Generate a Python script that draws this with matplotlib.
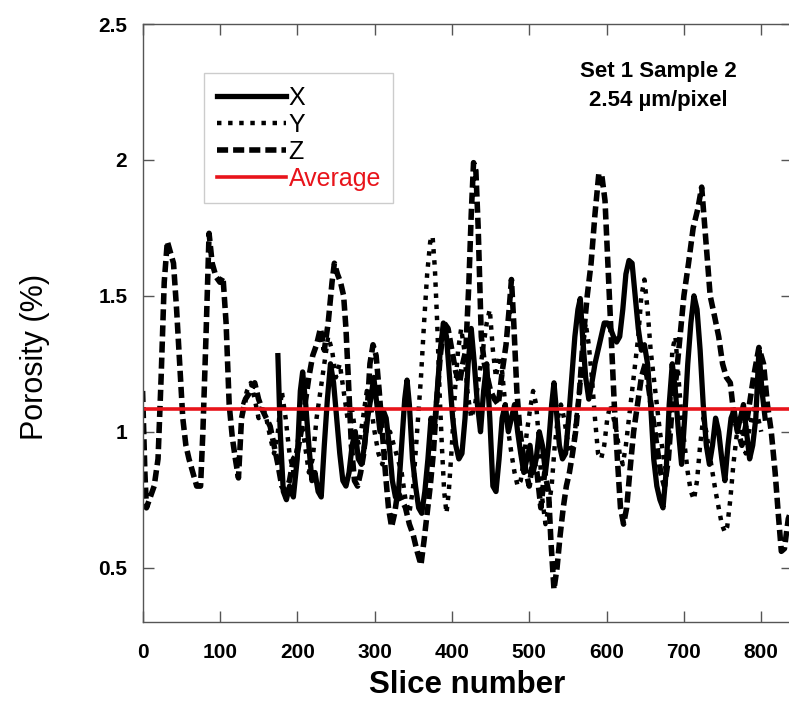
import matplotlib
matplotlib.use("Agg")
import matplotlib.pyplot as plt

# ---- porosity per slice ----
z_slice = [0, 3, 5, 10, 15, 20, 24, 28, 32, 36, 40, 44, 48, 52, 56, 60, 65, 70, 75, 78,
           82, 86, 90, 95, 100, 104, 108, 112, 116, 120, 124, 128, 133, 140, 145, 150, 155, 160, 165, 170,
           175, 180, 185, 190, 195, 200, 205, 210, 215, 220, 225, 230, 235, 240, 245, 248, 252, 256, 260, 263,
           266, 270, 274, 278, 282, 286, 290, 294, 298, 302, 306, 310, 314, 318, 322, 326, 330, 335, 340, 345,
           350, 355, 360, 364, 368, 372, 376, 380, 385, 390, 395, 400, 405, 410, 414, 418, 422, 425, 428, 431,
           434, 438, 442, 446, 450, 455, 460, 465, 470, 474, 477, 480, 484, 488, 492, 496, 500, 505, 510, 515,
           520, 525, 528, 532, 536, 540, 544, 548, 552, 556, 560, 565, 570, 575, 580, 585, 590, 594, 598, 602,
           606, 610, 614, 618, 622, 626, 630, 635, 640, 645, 650, 655, 660, 665, 670, 675, 680, 685, 690, 695,
           700, 706, 712, 718, 723, 728, 734, 740, 745, 750, 755, 760, 765, 770, 775, 782, 790, 797, 803, 808,
           813, 818, 822, 826, 830, 835, 840]
z_val = [1.15, 0.85, 0.72, 0.76, 0.80, 0.90, 1.20, 1.55, 1.70, 1.66, 1.62, 1.45, 1.25, 1.05, 0.95, 0.90, 0.85, 0.80, 0.80, 1.00,
         1.35, 1.73, 1.62, 1.57, 1.55, 1.57, 1.40, 1.10, 0.98, 0.90, 0.83, 1.05, 1.12, 1.15, 1.18, 1.12, 1.08, 1.05, 1.02, 0.95,
         0.88, 0.80, 0.78, 0.82, 0.90, 0.92, 1.00, 1.10, 1.20, 1.28, 1.32, 1.38, 1.30, 1.40, 1.55, 1.62, 1.58, 1.55, 1.50, 1.38,
         1.20, 0.95, 0.82, 0.80, 0.85, 0.92, 1.05, 1.25, 1.32, 1.28, 1.15, 1.00, 0.85, 0.72, 0.65, 0.70, 0.78, 0.75, 0.72, 0.66,
         0.62, 0.56, 0.51, 0.60, 0.70, 0.80, 0.92, 1.10, 1.28, 1.40, 1.38, 1.30, 1.22, 1.18, 1.25, 1.30, 1.55, 1.80, 1.99, 1.96,
         1.75, 1.35, 1.25, 1.20, 1.15, 1.12, 1.10, 1.22, 1.32, 1.45, 1.56, 1.40, 1.15, 1.00, 0.92, 0.85, 0.80, 0.90, 0.85, 0.72,
         0.85, 0.78, 0.60, 0.42, 0.50, 0.62, 0.72, 0.80, 0.85, 0.92, 1.00, 1.15, 1.35, 1.50, 1.62, 1.80, 1.95, 1.94, 1.85, 1.60,
         1.35, 1.10, 0.90, 0.72, 0.66, 0.72, 0.85, 1.00, 1.10, 1.20, 1.25, 1.15, 1.05, 0.95, 0.85, 0.80, 0.90, 1.10, 1.20, 1.35,
         1.50, 1.62, 1.75, 1.82, 1.90, 1.72, 1.50, 1.42, 1.35, 1.25, 1.20, 1.18, 1.05, 1.00, 0.95, 1.05, 1.20, 1.31, 1.25, 1.10,
         1.00, 0.85, 0.70, 0.56, 0.57, 0.68, 0.72]

x_slice = [175, 178, 182, 186, 190, 195, 200, 204, 207, 211, 215, 219, 223, 227, 231, 235, 239, 243, 247, 251,
           255, 259, 263, 267, 271, 275, 279, 283, 287, 291, 295, 299, 303, 307, 311, 315, 319, 323, 327, 331,
           335, 339, 342, 345, 349, 353, 357, 361, 365, 369, 373, 377, 381, 385, 389, 393, 397, 401, 405, 409,
           413, 417, 421, 425, 429, 433, 437, 441, 445, 449, 453, 457, 461, 465, 469, 473, 477, 481, 485, 489,
           493, 497, 501, 505, 509, 513, 517, 521, 525, 529, 532, 535, 539, 543, 547, 551, 555, 559, 563, 566,
           569, 573, 577, 581, 585, 589, 593, 597, 601, 605, 609, 613, 617, 621, 625, 629, 633, 637, 641, 645,
           649, 653, 657, 661, 665, 669, 673, 677, 681, 685, 689, 693, 697, 701, 705, 709, 713, 717, 721, 725,
           729, 733, 737, 741, 745, 749, 753, 757, 761, 765, 769, 773, 777, 781, 785, 789, 793, 797, 801, 805]
x_val = [1.28, 1.00, 0.78, 0.75, 0.80, 0.76, 0.90, 1.15, 1.22, 1.10, 0.95, 0.82, 0.85, 0.78, 0.76, 0.95, 1.12, 1.25, 1.18, 1.05,
         0.92, 0.82, 0.80, 0.85, 0.95, 1.00, 0.90, 0.88, 0.95, 1.05, 1.12, 1.20, 1.10, 1.00, 1.08, 1.05, 0.95, 0.82, 0.76, 0.78,
         0.95, 1.12, 1.19, 1.10, 0.90, 0.80, 0.72, 0.70, 0.78, 0.90, 1.05, 1.00, 1.15, 1.30, 1.40, 1.35, 1.20, 1.05, 0.95, 0.90,
         0.92, 1.05, 1.25, 1.38, 1.25, 1.10, 1.00, 1.15, 1.25, 1.05, 0.80, 0.78, 0.90, 1.05, 1.10, 1.00, 1.05, 1.10, 1.00, 0.92,
         0.85, 0.90, 0.95, 0.85, 0.90, 1.00, 0.95, 0.85, 0.95, 1.10, 1.18, 1.08, 0.95, 0.90, 0.92, 1.05, 1.20, 1.35, 1.45, 1.49,
         1.35, 1.20, 1.12, 1.18, 1.25, 1.30, 1.35, 1.40, 1.40, 1.38, 1.35, 1.33, 1.35, 1.45, 1.58, 1.63, 1.62, 1.50, 1.38, 1.30,
         1.32, 1.25, 1.10, 0.90, 0.80, 0.75, 0.72, 0.85, 1.10, 1.25, 1.15, 1.00, 0.88, 1.05, 1.25, 1.40, 1.50, 1.45, 1.30, 1.10,
         0.95, 0.88, 0.95, 1.05, 1.00, 0.90, 0.82, 0.95, 1.05, 1.08, 1.00, 1.05, 1.10, 1.00, 0.90, 0.95, 1.05, 1.30, 1.15, 1.05]

y_slice = [130, 135, 140, 145, 150, 155, 160, 165, 170, 175, 180, 185, 190, 195, 200, 205, 210, 215, 220, 225,
           230, 235, 240, 245, 250, 255, 260, 265, 270, 275, 280, 285, 290, 295, 300, 305, 310, 315, 320, 325,
           330, 335, 340, 345, 350, 355, 360, 364, 368, 372, 375, 378, 381, 384, 387, 390, 393, 396, 400, 404,
           408, 412, 416, 420, 425, 430, 435, 440, 445, 449, 453, 457, 461, 465, 469, 473, 477, 481, 485, 489,
           493, 497, 501, 505, 509, 513, 517, 521, 525, 529, 533, 537, 541, 545, 549, 553, 557, 561, 565, 569,
           573, 577, 581, 585, 589, 593, 597, 601, 605, 609, 613, 617, 621, 625, 629, 633, 637, 641, 645, 649,
           653, 657, 661, 665, 669, 673, 677, 681, 685, 689, 693, 697, 701, 705, 709, 713, 717, 721, 725, 729,
           733, 737, 741, 745, 749, 753, 756, 760, 764, 768, 772, 776, 780, 784, 788, 792, 796, 800]
y_val = [1.10, 1.15, 1.18, 1.12, 1.05, 1.10, 1.05, 0.98, 0.92, 1.00, 1.15, 1.05, 0.92, 0.85, 0.95, 1.05, 0.95, 0.85, 0.90, 1.05,
         1.15, 1.25, 1.35, 1.30, 1.20, 1.25, 1.15, 1.05, 1.10, 1.00, 0.95, 1.05, 1.15, 1.10, 1.00, 0.92, 0.88, 0.95, 1.00, 0.95,
         0.90, 0.85, 0.75, 0.70, 0.80, 1.00, 1.20, 1.40, 1.58, 1.70, 1.72, 1.60, 1.40, 1.15, 0.95, 0.78, 0.70, 0.78, 0.95, 1.15,
         1.30, 1.38, 1.30, 1.15, 1.05, 1.10, 1.20, 1.30, 1.40, 1.45, 1.30, 1.20, 1.28, 1.22, 1.10, 1.00, 0.92, 0.85, 0.80, 0.82,
         0.90, 1.00, 1.08, 1.15, 1.10, 0.95, 0.75, 0.66, 0.72, 0.80, 0.95, 1.05, 1.10, 1.05, 0.98, 0.92, 0.95, 1.05, 1.15, 1.30,
         1.40, 1.32, 1.20, 1.05, 0.92, 0.90, 0.95, 1.05, 1.10, 1.05, 1.00, 0.92, 0.88, 0.95, 1.05, 1.15, 1.25, 1.35, 1.50, 1.56,
         1.45, 1.30, 1.20, 1.10, 1.00, 0.92, 0.85, 1.00, 1.30, 1.35, 1.20, 1.05, 0.95, 0.85, 0.78, 0.75, 0.82, 0.95, 1.05, 1.00,
         0.92, 0.85, 0.78, 0.72, 0.66, 0.63, 0.65, 0.75, 0.88, 0.98, 1.05, 0.98, 0.92, 1.00, 1.05, 1.10, 1.05, 1.00]

average = 1.085
title_lines = ["Set 1 Sample 2", "2.54 \u00b5m/pixel"]

fig = plt.figure(figsize=(7.89, 7.19), dpi=100)
ax = fig.add_axes([0.1807, 0.1349, 0.8233, 0.8317])

ax.plot(x_slice, x_val, color="black", lw=3.8, solid_joinstyle="round", label="X")
ax.plot(y_slice, y_val, color="black", lw=3.2, ls=(0, (1, 1.5)), label="Y")
ax.plot(z_slice, z_val, color="black", lw=4.0, ls=(0, (2.0, 0.9)), label="Z")
ax.axhline(average, color="#e8141b", lw=2.6, label="Average")

ax.set_xlim(0, 840)
ax.set_ylim(0.3, 2.5)
ax.set_xticks(range(0, 900, 100))
ax.set_yticks([0.5, 1, 1.5, 2, 2.5])
ax.set_yticklabels(["0.5", "1", "1.5", "2", "2.5"])
ax.tick_params(direction="in", length=8, width=1, color="#555555",
               top=True, right=True, labelsize=15)
ax.tick_params(axis="x", pad=15)
ax.tick_params(axis="y", pad=11)
for lab in ax.get_xticklabels() + ax.get_yticklabels():
    lab.set_fontfamily("Liberation Sans")
    lab.set_fontweight("bold")
for s in ax.spines.values():
    s.set_color("#555555")
    s.set_linewidth(1)

ax.set_xlabel("Slice number", fontsize=22.5, fontweight="bold", family="Liberation Sans", labelpad=6)
ax.set_ylabel("Porosity (%)", fontsize=22, family="Liberation Sans")
ax.yaxis.set_label_coords(-0.143, 0.443)

leg = ax.legend(loc="upper left", bbox_to_anchor=(0.095, 0.918), borderaxespad=0,
                handlelength=2.75, handletextpad=0.12, labelspacing=0.12,
                fancybox=False, framealpha=1, borderpad=0.5,
                prop={"family": "Liberation Sans", "size": 18})
leg.get_frame().set_edgecolor("#cccccc")
leg.get_frame().set_linewidth(1)
leg.get_texts()[3].set_color("#e8141b")

ax.text(0.794, 0.921, title_lines[0], transform=ax.transAxes, ha="center", va="center",
        fontsize=16, fontweight="bold", family="Liberation Sans")
ax.text(0.794, 0.872, title_lines[1], transform=ax.transAxes, ha="center", va="center",
        fontsize=16, fontweight="bold", family="Liberation Sans")

fig.savefig("out.png", dpi=100)
